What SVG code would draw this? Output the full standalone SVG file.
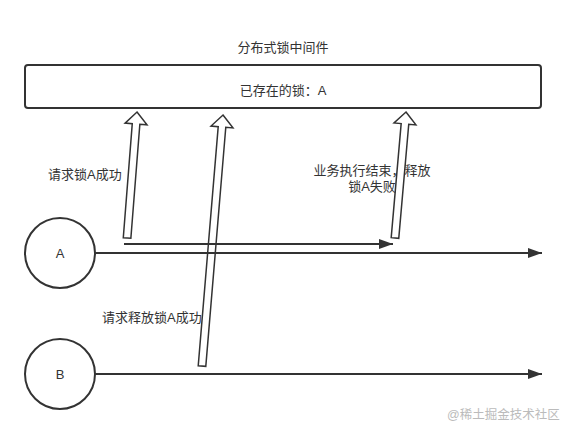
<svg xmlns="http://www.w3.org/2000/svg" width="566" height="434" viewBox="0 0 566 434">
<defs>
<style>
text{font-family:"Liberation Sans","Noto Sans CJK SC",sans-serif;font-size:13px;fill:#333}
.ln{stroke:#333;stroke-width:2;fill:none}
.blk{fill:#fff;stroke:#333;stroke-width:1.5;stroke-linejoin:miter}
.node{fill:#fff;stroke:#333;stroke-width:2}
</style>
<marker id="ah" viewBox="0 0 14 10" refX="14" refY="5" markerWidth="14" markerHeight="10" markerUnits="userSpaceOnUse" orient="auto">
<path d="M0,0 L14,5 L0,10 Z" fill="#333"/>
</marker>
</defs>
<rect width="566" height="434" fill="#fff"/>
<g id="middleware">
<text x="283" y="52" text-anchor="middle">分布式锁中间件</text>
<rect class="node" x="25" y="65" width="516" height="43" rx="3"/>
<text x="283" y="95" text-anchor="middle">已存在的锁：A</text>
</g>
<g id="nodeA">
<circle class="node" cx="60" cy="253" r="35"/>
<text x="60" y="258" text-anchor="middle">A</text>
</g>
<g id="nodeB">
<circle class="node" cx="60" cy="374" r="35"/>
<text x="60" y="379" text-anchor="middle">B</text>
</g>
<g id="connectors">
<polygon class="blk" transform="translate(137,112) rotate(4.5)" points="0,0 11,12 3.8,12 3.8,126.4 -3.8,126.4 -3.8,12 -11,12"/>
<polygon class="blk" transform="translate(223,115) rotate(4.78)" points="0,0 11,12 3.8,12 3.8,251.9 -3.8,251.9 -3.8,12 -11,12"/>
<polygon class="blk" transform="translate(406,112) rotate(5)" points="0,0 11,12 3.8,12 3.8,126.5 -3.8,126.5 -3.8,12 -11,12"/>
<line class="ln" x1="95" y1="253" x2="542" y2="253" marker-end="url(#ah)"/>
<line class="ln" x1="124" y1="244" x2="393" y2="244" marker-end="url(#ah)"/>
<line class="ln" x1="95" y1="374" x2="542" y2="374" marker-end="url(#ah)"/>
</g>
<g id="labels">
<text x="48" y="179">请求锁A成功</text>
<text x="372" y="175" text-anchor="middle">业务执行结束，释放</text>
<text x="372" y="191" text-anchor="middle">锁A失败</text>
<text x="102" y="322">请求释放锁A成功</text>
</g>
<text x="447" y="419" style="font-size:12.5px;fill:#bbb">@稀土掘金技术社区</text>
</svg>
